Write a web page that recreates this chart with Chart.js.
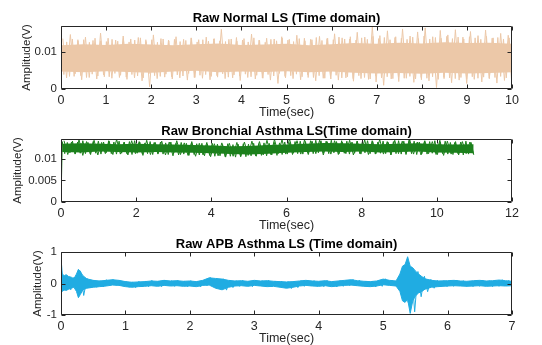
<!DOCTYPE html>
<html><head><meta charset="utf-8">
<script src="https://cdn.jsdelivr.net/npm/chart.js@4.4.1/dist/chart.umd.min.js"></script>
<style>
html,body{margin:0;padding:0;background:#fff;width:542px;height:345px;overflow:hidden;}
canvas{position:absolute;left:0;}
</style></head><body>
<canvas id="c1" width="542" height="121" style="top:0px;width:542px;height:121px"></canvas>
<canvas id="c2" width="542" height="121" style="top:113px;width:542px;height:121px"></canvas>
<canvas id="c3" width="542" height="121" style="top:226px;width:542px;height:121px"></canvas>
<script>
// ---------- Plot 1: Raw Normal LS (0..10 s) ----------
const normalTitle = 'Raw Normal LS (Time domain)';
const normalDuration = 10;
const normalYTicks = [0, 0.01];
// solid core band (every 0.5 s)
const normalCoreHi = [0.0118,0.0121,0.0119,0.0122,0.0120,0.0118,0.0121,0.0123,0.0119,0.0120,0.0122,0.0118,0.0121,0.0124,0.0122,0.0125,0.0123,0.0126,0.0124,0.0125,0.0122];
const normalCoreLo = [0.0047,0.0045,0.0048,0.0046,0.0044,0.0047,0.0049,0.0045,0.0047,0.0046,0.0048,0.0045,0.0047,0.0044,0.0042,0.0043,0.0041,0.0044,0.0042,0.0043,0.0045];
// dense alternating peak / trough samples (edge fuzz)
const normalFuzz = [
 0.0131,0.0039,0.0127,0.0034,0.0135,0.0041,0.0129,0.0036,0.0133,0.0031,0.0126,0.0040,0.0137,0.0035,0.0130,0.0038,0.0128,0.0033,0.0134,0.0042,
 0.0129,0.0037,0.0136,0.0032,0.0127,0.0039,0.0132,0.0035,0.0138,0.0030,0.0128,0.0041,0.0133,0.0036,0.0126,0.0034,0.0135,0.0040,0.0130,0.0033,
 0.0134,0.0038,0.0128,0.0035,0.0131,0.0042,0.0137,0.0031,0.0127,0.0037,0.0133,0.0039,0.0129,0.0034,0.0136,0.0036,0.0130,0.0041,0.0128,0.0032,
 0.0135,0.0038,0.0129,0.0035,0.0132,0.0040,0.0127,0.0033,0.0138,0.0037,0.0131,0.0030,0.0126,0.0039,0.0134,0.0035,0.0130,0.0042,0.0137,0.0034,
 0.0132,0.0036,0.0128,0.0040,0.0136,0.0033,0.0130,0.0038,0.0134,0.0031,0.0139,0.0036,0.0131,0.0029,0.0137,0.0034,0.0133,0.0037,0.0140,0.0030,
 0.0135,0.0033,0.0141,0.0028,0.0132,0.0036,0.0138,0.0031,0.0134,0.0027,0.0142,0.0035,0.0136,0.0030,0.0139,0.0033,0.0133,0.0028,0.0141,0.0032,
 0.0137,0.0029,0.0134,0.0034,0.0140,0.0027,0.0136,0.0031,0.0143,0.0029,0.0135,0.0033,0.0139,0.0026,0.0137,0.0032,0.0142,0.0030,0.0136,0.0028,
 0.0140,0.0031,0.0135,0.0027,0.0141,0.0033,0.0138,0.0029,0.0134,0.0032,0.0142,0.0028,0.0137,0.0031,0.0139,0.0034,0.0135,0.0030,0.0138,0.0033];
// sparser tall spikes
const normalSpikes = [
 0.0136,0.0030,0.0147,0.0034,0.0133,0.0025,0.0140,0.0031,0.0131,0.0027,0.0151,0.0033,
 0.0137,0.0029,0.0132,0.0031,0.0143,0.0026,0.0135,0.0030,0.0139,0.0022,0.0133,0.0006,
 0.0146,0.0028,0.0136,0.0032,0.0132,0.0027,0.0141,0.0030,0.0134,0.0024,0.0138,0.0031,
 0.0133,0.0029,0.0140,0.0025,0.0135,0.0032,0.0161,0.0028,0.0134,0.0030,0.0139,0.0023,
 0.0136,0.0031,0.0148,0.0027,0.0132,0.0029,0.0137,0.0024,0.0135,0.0015,0.0141,0.0030,
 0.0134,0.0028,0.0145,0.0025,0.0137,0.0031,0.0133,0.0022,0.0142,0.0029,0.0136,0.0027,
 0.0149,0.0024,0.0138,0.0030,0.0135,0.0021,0.0153,0.0028,0.0140,0.0026,0.0168,0.0019,
 0.0144,0.0010,0.0157,0.0027,0.0139,0.0020,0.0162,0.0029,0.0143,0.0018,0.0154,0.0025,
 0.0165,0.0022,0.0141,0.0004,0.0158,0.0028,0.0146,0.0017,0.0160,0.0024,0.0140,0.0015,
 0.0155,0.0026,0.0144,0.0019,0.0159,0.0029,0.0138,0.0016,0.0150,0.0023,0.0145,0.0008];

// ---------- Plot 2: Raw Bronchial Asthma LS (0..11 s, axis to 12) ----------
const bronchTitle = 'Raw Bronchial Asthma LS(Time domain)';
const bronchDuration = 10.98;
const bronchYTicks = [0, 0.005, 0.01];
const bronchCoreHi = [0.0135,0.0136,0.0135,0.0134,0.0135,0.0134,0.0133,0.0132,0.0131,0.0129,0.0130,0.0132,0.0133,0.0135,0.0137,0.0136,0.0135,0.0134,0.0135,0.0136,0.0134,0.0133,0.0134];
const bronchCoreLo = [0.0116,0.0115,0.0117,0.0116,0.0115,0.0116,0.0115,0.0114,0.0113,0.0111,0.0110,0.0112,0.0114,0.0116,0.0117,0.0116,0.0117,0.0115,0.0116,0.0117,0.0115,0.0114,0.0113];
const bronchStart = [0.0, 0.0125];
const bronchFuzz = [
 0.0140,0.0112,0.0138,0.0114,0.0141,0.0111,0.0139,0.0113,0.0142,0.0112,0.0138,0.0110,0.0140,0.0113,0.0141,0.0111,0.0139,0.0114,0.0142,0.0112,
 0.0139,0.0111,0.0141,0.0113,0.0138,0.0112,0.0140,0.0110,0.0142,0.0113,0.0139,0.0111,0.0137,0.0112,0.0140,0.0110,0.0138,0.0113,0.0139,0.0111,
 0.0137,0.0110,0.0139,0.0112,0.0136,0.0109,0.0138,0.0111,0.0136,0.0108,0.0137,0.0110,0.0135,0.0109,0.0136,0.0107,0.0134,0.0108,0.0136,0.0106,
 0.0134,0.0107,0.0133,0.0105,0.0135,0.0106,0.0133,0.0104,0.0134,0.0106,0.0135,0.0105,0.0134,0.0107,0.0136,0.0106,0.0135,0.0108,0.0137,0.0107,
 0.0136,0.0109,0.0138,0.0108,0.0137,0.0110,0.0139,0.0111,0.0138,0.0110,0.0140,0.0112,0.0141,0.0111,0.0140,0.0113,0.0142,0.0112,0.0143,0.0114,
 0.0142,0.0113,0.0141,0.0112,0.0143,0.0114,0.0140,0.0112,0.0142,0.0113,0.0141,0.0111,0.0139,0.0113,0.0141,0.0112,0.0140,0.0114,0.0142,0.0112,
 0.0140,0.0111,0.0139,0.0113,0.0141,0.0112,0.0138,0.0110,0.0140,0.0112,0.0142,0.0111,0.0141,0.0113,0.0143,0.0112,0.0141,0.0110,0.0139,0.0112,
 0.0141,0.0111,0.0140,0.0113,0.0142,0.0110,0.0139,0.0112,0.0141,0.0111,0.0138,0.0110,0.0140,0.0112,0.0139,0.0109,0.0141,0.0111,0.0138,0.0110];
const bronchSpikes = [
 0.0142,0.0110,0.0139,0.0112,0.0144,0.0108,0.0140,0.0111,0.0143,0.0109,0.0138,0.0112,0.0141,0.0110,0.0145,0.0111,0.0139,0.0109,0.0142,0.0112,
 0.0140,0.0108,0.0143,0.0110,0.0138,0.0111,0.0141,0.0109,0.0139,0.0107,0.0142,0.0110,0.0137,0.0108,0.0140,0.0106,0.0136,0.0109,0.0138,0.0105,
 0.0135,0.0107,0.0137,0.0104,0.0136,0.0106,0.0138,0.0105,0.0139,0.0108,0.0141,0.0107,0.0140,0.0109,0.0143,0.0110,0.0145,0.0112,0.0144,0.0111,
 0.0146,0.0113,0.0142,0.0111,0.0144,0.0110,0.0141,0.0112,0.0143,0.0109,0.0140,0.0111,0.0142,0.0110,0.0139,0.0112,0.0143,0.0109,0.0141,0.0111,
 0.0144,0.0110,0.0142,0.0112,0.0145,0.0111,0.0140,0.0109,0.0143,0.0112,0.0141,0.0110,0.0144,0.0111,0.0139,0.0109,0.0142,0.0112,0.0140,0.0110,
 0.0143,0.0108,0.0141,0.0111,0.0138,0.0109,0.0140,0.0112,0.0139,0.0110];

// ---------- Plot 3: Raw APB Asthma LS (0..7 s) ----------
const apbTitle = 'Raw APB Asthma LS (Time domain)';
const apbDuration = 7;
const apbYTicks = [-1, 0, 1];
const apbTime = [0.00,0.02,0.05,0.08,0.12,0.16,0.20,0.24,0.27,0.30,0.34,0.40,0.50,0.60,0.70,0.80,0.90,1.00,1.10,1.20,1.30,1.40,1.50,1.60,1.70,1.80,1.90,2.00,2.10,2.20,2.30,2.40,2.50,2.60,2.70,2.80,2.90,3.00,3.10,3.20,3.30,3.40,3.50,3.60,3.70,3.80,3.90,4.00,4.10,4.20,4.30,4.40,4.50,4.60,4.70,4.80,4.90,5.00,5.10,5.20,5.26,5.30,5.34,5.38,5.42,5.46,5.50,5.55,5.60,5.65,5.75,5.85,6.00,6.10,6.20,6.30,6.40,6.50,6.60,6.70,6.80,6.90,7.00];
const apbHi = [0.80,0.30,0.25,0.28,0.22,0.20,0.15,0.30,0.45,0.38,0.25,0.15,0.10,0.08,0.10,0.12,0.10,0.06,0.04,0.05,0.06,0.08,0.07,0.10,0.08,0.09,0.07,0.08,0.06,0.10,0.18,0.16,0.14,0.10,0.08,0.09,0.07,0.10,0.08,0.09,0.07,0.06,0.05,0.06,0.08,0.10,0.08,0.07,0.09,0.06,0.08,0.10,0.12,0.09,0.07,0.06,0.08,0.14,0.10,0.08,0.30,0.55,0.60,0.85,0.55,0.50,0.40,0.30,0.22,0.15,0.10,0.08,0.09,0.10,0.08,0.07,0.09,0.10,0.08,0.09,0.11,0.09,0.07];
const apbLo = [-0.05,-0.25,-0.20,-0.22,-0.18,-0.15,-0.12,-0.25,-0.45,-0.35,-0.20,-0.15,-0.12,-0.10,-0.08,-0.05,-0.06,-0.10,-0.12,-0.10,-0.09,-0.07,-0.09,-0.06,-0.08,-0.07,-0.09,-0.08,-0.10,-0.06,-0.05,-0.15,-0.20,-0.12,-0.08,-0.07,-0.09,-0.06,-0.08,-0.10,-0.09,-0.12,-0.15,-0.12,-0.08,-0.06,-0.08,-0.09,-0.07,-0.10,-0.08,-0.06,-0.05,-0.07,-0.09,-0.10,-0.08,-0.04,-0.06,-0.08,-0.25,-0.55,-0.60,-0.50,-0.95,-0.55,-0.40,-0.30,-0.25,-0.18,-0.12,-0.10,-0.08,-0.07,-0.08,-0.09,-0.08,-0.07,-0.09,-0.08,-0.07,-0.08,-0.07];
// alternating peak / trough samples (edge fuzz)
const apbFuzz = [
 0.30,-0.22,0.24,-0.20,0.20,-0.16,0.40,-0.38,0.16,-0.14,0.11,-0.12,0.09,-0.11,0.12,-0.08,0.13,-0.06,0.11,-0.07,
 0.07,-0.12,0.05,-0.13,0.07,-0.11,0.08,-0.10,0.10,-0.08,0.08,-0.10,0.11,-0.07,0.09,-0.09,0.10,-0.08,0.08,-0.10,
 0.09,-0.09,0.07,-0.11,0.11,-0.07,0.19,-0.06,0.17,-0.16,0.15,-0.21,0.11,-0.13,0.09,-0.09,0.10,-0.08,0.08,-0.10,
 0.11,-0.07,0.09,-0.09,0.10,-0.11,0.08,-0.10,0.07,-0.13,0.06,-0.16,0.07,-0.13,0.09,-0.09,0.11,-0.07,0.09,-0.09,
 0.08,-0.10,0.10,-0.08,0.07,-0.11,0.09,-0.09,0.11,-0.07,0.13,-0.06,0.10,-0.08,0.08,-0.10,0.07,-0.11,0.09,-0.09,
 0.15,-0.05,0.11,-0.07,0.09,-0.09,0.58,-0.60,0.52,-0.90,0.38,-0.42,0.23,-0.26,0.13,-0.15,0.10,-0.11,0.09,-0.10,
 0.10,-0.09,0.11,-0.08,0.09,-0.09,0.08,-0.10,0.10,-0.09,0.11,-0.08,0.09,-0.10,0.10,-0.09,0.12,-0.08,0.10,-0.09];

// ---------- helpers ----------
const evenly = (arr, t0, t1) => arr.map((v, i) => ({x: t0 + (t1 - t0) * i / (arr.length - 1), y: v}));
const paired = (ts, vs) => ts.map((t, i) => ({x: t, y: vs[i]}));

const FONT = '"Liberation Sans", Arial, sans-serif';
const INK = '#262626';

const boxTicks = {
  id: 'boxTicks',
  afterDatasetsDraw(chart) {
    const {ctx, chartArea: a, scales: {x, y}} = chart;
    ctx.save();
    ctx.strokeStyle = INK; ctx.lineWidth = 1;
    const L = Math.round(a.left) + 0.5, R = Math.round(a.right) - 0.5;
    const T = Math.round(a.top) + 0.5, B = Math.round(a.bottom) - 0.5;
    ctx.beginPath();
    ctx.rect(L, T, R - L, B - T);
    const tl = 4;
    x.ticks.forEach(t => { const px = Math.round(x.getPixelForValue(t.value)) + 0.5;
      ctx.moveTo(px, B); ctx.lineTo(px, B - tl); ctx.moveTo(px, T); ctx.lineTo(px, T + tl); });
    y.ticks.forEach(t => { const py = Math.round(y.getPixelForValue(t.value)) + 0.5;
      ctx.moveTo(L, py); ctx.lineTo(L + tl, py); ctx.moveTo(R, py); ctx.lineTo(R - tl, py); });
    ctx.stroke();
    ctx.restore();
  }
};

function makeChart(id, o) {
  new Chart(document.getElementById(id), {
    type: 'line',
    data: {datasets: o.datasets},
    options: {
      responsive: false, animation: false,
      layout: {padding: {left: o.padLeft, right: 30, top: 0, bottom: 0}},
      elements: {point: {radius: 0}, line: {tension: 0}},
      plugins: {
        legend: {display: false}, tooltip: {enabled: false},
        title: {display: true, fullSize: false, text: o.title, color: '#000',
          font: {family: FONT, size: 13, weight: 'bold', lineHeight: 1.2},
          padding: {top: 10.4, bottom: 0}}
      },
      scales: {
        x: {type: 'linear', min: 0, max: o.xMax,
          grid: {display: false, drawTicks: false}, border: {display: false},
          ticks: {stepSize: o.xStep, color: INK, padding: 5, maxRotation: 0,
            font: {family: FONT, size: 12.5, lineHeight: 1}, callback: v => String(v)},
          title: {display: true, text: 'Time(sec)', color: INK, padding: {top: 0, bottom: 2},
            font: {family: FONT, size: 12.5, lineHeight: 1}},
          afterFit: s => { s.height = 32; }
        },
        y: {type: 'linear', min: o.yMin, max: o.yMax,
          grid: {display: false, drawTicks: false}, border: {display: false},
          afterBuildTicks: s => { s.ticks = o.yTicks.map(v => ({value: v})); },
          ticks: {color: INK, padding: 4, font: {family: FONT, size: 11.5}, callback: v => String(v)},
          title: {display: true, text: 'Amplitude(V)', color: INK, padding: {top: 0, bottom: 0},
            font: {family: FONT, size: 11.5, lineHeight: 1.2}},
          afterFit: s => { s.width = 61 - o.padLeft; }
        }
      }
    },
    plugins: [boxTicks]
  });
}

const cNormal = 'rgb(236,200,168)';
const cBronch = 'rgb(28,128,28)';
const cApb = 'rgb(32,172,226)';

makeChart('c1', {
  title: normalTitle, xMax: 10, xStep: 1, yMin: 0, yMax: 0.017, yTicks: normalYTicks, padLeft: 20,
  datasets: [
    {data: evenly(normalCoreHi, 0, normalDuration), borderWidth: 0, backgroundColor: cNormal, fill: '+1'},
    {data: evenly(normalCoreLo, 0, normalDuration), borderWidth: 0, fill: false},
    {data: evenly(normalFuzz, 0, normalDuration), borderColor: cNormal, borderWidth: 1, fill: false},
    {data: evenly(normalSpikes, 0.04, normalDuration), borderColor: cNormal, borderWidth: 1, fill: false}
  ]
});

makeChart('c2', {
  title: bronchTitle, xMax: 12, xStep: 2, yMin: 0, yMax: 0.0146, yTicks: bronchYTicks, padLeft: 11,
  datasets: [
    {data: evenly(bronchCoreHi, 0.03, bronchDuration), borderWidth: 0, backgroundColor: cBronch, fill: '+1'},
    {data: evenly(bronchCoreLo, 0.03, bronchDuration), borderWidth: 0, fill: false},
    {data: evenly(bronchStart, 0, 0.03).concat(evenly(bronchFuzz, 0.03, bronchDuration)), borderColor: cBronch, borderWidth: 1, fill: false},
    {data: evenly(bronchSpikes, 0.08, bronchDuration), borderColor: cBronch, borderWidth: 1, fill: false}
  ]
});

makeChart('c3', {
  title: apbTitle, xMax: 7, xStep: 1, yMin: -1, yMax: 1, yTicks: apbYTicks, padLeft: 31,
  datasets: [
    {data: paired(apbTime, apbHi), borderColor: cApb, borderWidth: 1, backgroundColor: cApb, fill: '+1'},
    {data: paired(apbTime, apbLo), borderColor: cApb, borderWidth: 1, fill: false},
    {data: evenly(apbFuzz, 0, apbDuration), borderColor: cApb, borderWidth: 1, fill: false}
  ]
});
</script>
</body></html>
